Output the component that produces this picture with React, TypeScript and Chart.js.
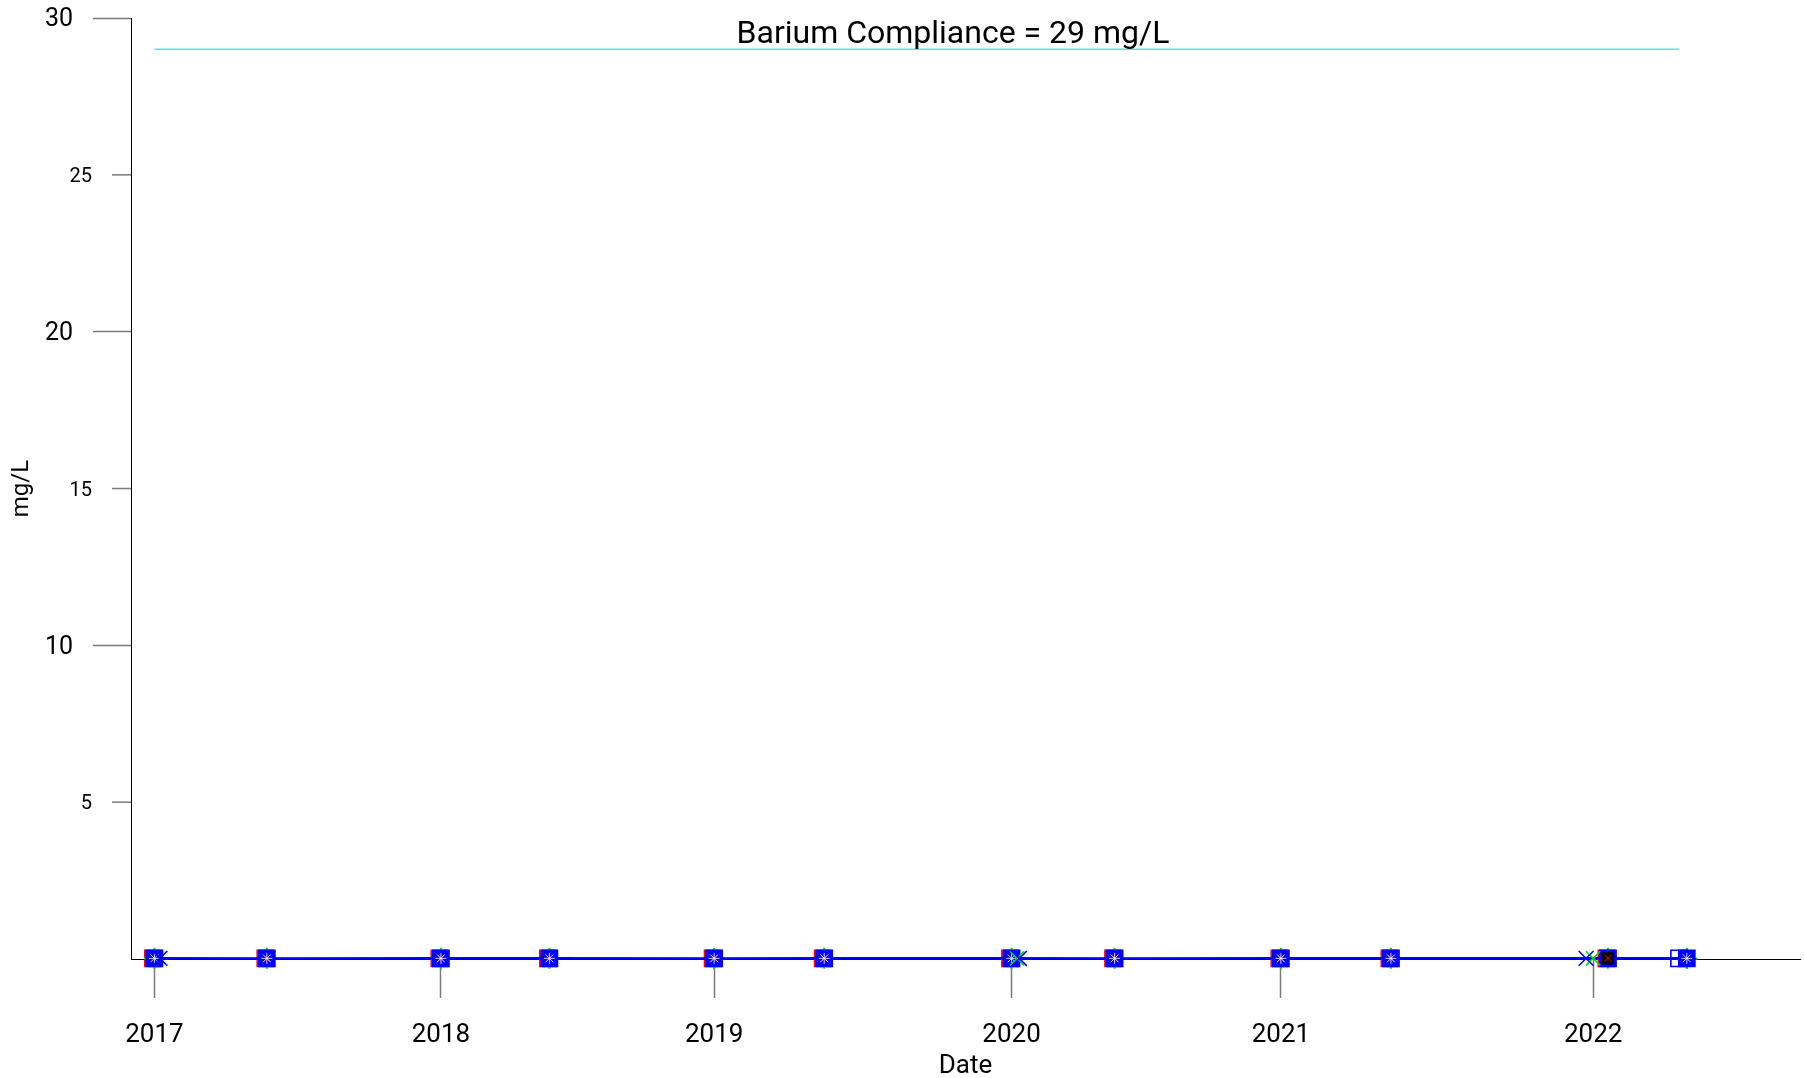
import React, { useEffect, useRef } from "react";
import { Chart, registerables } from "chart.js";
Chart.register(...registerables);

const FONT = "Roboto, 'Open Sans', sans-serif";

// ---- data (dates as ISO strings, values in mg/L) ----
const mainDates = [
  "2017-01-10", "2017-06-03", "2018-01-12", "2018-05-31", "2018-12-28", "2019-05-18",
  "2020-01-13", "2020-05-24", "2020-12-23", "2021-05-13", "2022-02-15", "2022-05-27",
];
const mainValues = [0.021, 0.019, 0.022, 0.02, 0.018, 0.021, 0.02, 0.019, 0.022, 0.02, 0.021, 0.02];

const openSquareDates = ["2022-05-17"];
const openSquareValues = [0.02];

const redSquareDates = [
  "2017-01-08", "2017-06-01", "2018-01-10", "2018-05-29", "2018-12-26", "2019-05-16",
  "2020-01-11", "2020-05-22", "2020-12-21", "2021-05-11", "2022-02-13",
];
const redSquareValues = [0.02, 0.018, 0.021, 0.019, 0.02, 0.02, 0.021, 0.018, 0.02, 0.019, 0.02];

const greenPlusDates = [
  "2017-01-10", "2017-06-03", "2018-01-12", "2018-05-31", "2018-12-28", "2019-05-18",
  "2020-01-13", "2020-05-24", "2020-12-23", "2021-05-13", "2022-02-15", "2022-05-27",
];
const greenPlusValues = [0.02, 0.02, 0.021, 0.02, 0.019, 0.02, 0.021, 0.02, 0.02, 0.021, 0.02, 0.019];

const greenXDates = ["2020-01-20", "2022-01-27"];
const greenXValues = [0.02, 0.021];

const blueXDates = ["2017-01-17", "2020-01-23", "2022-01-18"];
const blueXValues = [0.02, 0.019, 0.02];

const blackDates = ["2022-02-15"];
const blackValues = [0.02];

const innerStarDates = [
  "2017-01-10", "2017-06-03", "2018-01-12", "2018-05-31", "2018-12-28", "2019-05-18",
  "2020-01-13", "2020-05-24", "2020-12-23", "2021-05-13", "2022-05-27",
];
const innerStarValues = [0.02, 0.02, 0.02, 0.02, 0.02, 0.02, 0.02, 0.02, 0.02, 0.02, 0.02];

const innerRedDates = [
  "2017-06-03", "2018-01-12", "2018-05-31", "2018-12-28", "2019-05-18",
  "2020-05-24", "2020-12-23", "2021-05-13", "2022-02-15",
];
const innerRedValues = [0.02, 0.02, 0.02, 0.02, 0.02, 0.02, 0.02, 0.02, 0.02];

const complianceDates = ["2017-01-10", "2022-05-17"];
const complianceLevel = 29;
const titleText = "Barium Compliance = 29 mg/L";

const xRange = ["2016-12-11", "2022-10-19"];
const tickDates = ["2017-01-10", "2018-01-12", "2018-12-28", "2020-01-13", "2020-12-23", "2022-01-27"];
const tickLabels = ["2017", "2018", "2019", "2020", "2021", "2022"];
const yMajorTicks = [10, 20, 30];
const yMinorTicks = [5, 15, 25];
const yRange = [0, 30];

// ---- helpers ----
const t = (d: string) => Date.parse(d + "T00:00:00Z");
const pts = (dates: string[], values: number[]) => dates.map((d, i) => ({ x: t(d), y: values[i] }));

const extrasPlugin = {
  id: "extras",
  afterDraw(chart: any) {
    const ctx = chart.ctx;
    const ys = chart.scales.y;
    const left = chart.chartArea.left;
    ctx.save();
    ctx.strokeStyle = "#7a7a7a";
    ctx.lineWidth = 1.5;
    ctx.fillStyle = "#000";
    ctx.font = `20px ${FONT}`;
    ctx.textAlign = "right";
    ctx.textBaseline = "middle";
    yMinorTicks.forEach((v) => {
      const py = ys.getPixelForValue(v);
      ctx.beginPath();
      ctx.moveTo(left - 19, py);
      ctx.lineTo(left, py);
      ctx.stroke();
      ctx.fillText(String(v), left - 39, py + 2);
    });
    ctx.font = `32px ${FONT}`;
    ctx.textAlign = "center";
    ctx.textBaseline = "alphabetic";
    ctx.fillText(titleText, chart.chartArea.left + chart.chartArea.width * 0.4925, 43);
    ctx.restore();
  },
};

export default function App() {
  const ref = useRef<HTMLCanvasElement | null>(null);
  useEffect(() => {
    if (!ref.current) return;
    const marker = (extra: any) => ({
      showLine: false,
      clip: false,
      borderWidth: 1.5,
      pointHoverRadius: 0,
      ...extra,
    });
    const chart = new Chart(ref.current, {
      type: "line",
      data: {
        datasets: [
          marker({ label: "Blue X", data: pts(blueXDates, blueXValues), pointStyle: "crossRot", pointRadius: 10.5, borderColor: "#0000ff", pointBorderColor: "#0000ff", pointBorderWidth: 1.6 }),
          marker({ label: "Green X", data: pts(greenXDates, greenXValues), pointStyle: "crossRot", pointRadius: 10, borderColor: "#00dd00", pointBorderColor: "#00dd00", pointBorderWidth: 1.6 }),
          marker({ label: "Inner star", data: pts(innerStarDates, innerStarValues), pointStyle: "star", pointRadius: 5.5, borderColor: "rgba(255,255,255,0.8)", pointBorderColor: "rgba(255,255,255,0.8)", pointBorderWidth: 1 }),
          marker({ label: "Inner red", data: pts(innerRedDates, innerRedValues), pointStyle: "crossRot", pointRadius: 5, borderColor: "#ff0000", pointBorderColor: "#ff0000", pointBorderWidth: 1 }),
          marker({ label: "Black", data: pts(blackDates, blackValues), pointStyle: "rect", pointRadius: 8, backgroundColor: "#000", pointBackgroundColor: "#000", borderColor: "#000", pointBorderColor: "#000", pointBorderWidth: 1 }),
          {
            label: "Barium",
            data: pts(mainDates, mainValues),
            showLine: true,
            clip: false,
            borderColor: "#0000ff",
            borderWidth: 2.5,
            pointStyle: "rect",
            pointRadius: 11.5,
            pointHoverRadius: 0,
            pointBackgroundColor: "#0000ff",
            pointBorderColor: "#0000ff",
            pointBorderWidth: 1.5,
            tension: 0,
          },
          marker({ label: "Open square", data: pts(openSquareDates, openSquareValues), pointStyle: "rect", pointRadius: 11.5, backgroundColor: "rgba(0,0,0,0)", pointBackgroundColor: "rgba(0,0,0,0)", borderColor: "#0000ff", pointBorderColor: "#0000ff", pointBorderWidth: 1.6 }),
          marker({ label: "Green plus", data: pts(greenPlusDates, greenPlusValues), pointStyle: "cross", pointRadius: 10.5, borderColor: "#00dd00", pointBorderColor: "#00dd00", pointBorderWidth: 2 }),
          marker({ label: "Red square", data: pts(redSquareDates, redSquareValues), pointStyle: "rect", pointRadius: 11.5, backgroundColor: "#ff0000", pointBackgroundColor: "#ff0000", borderColor: "#ff0000", pointBorderColor: "#ff0000", pointBorderWidth: 1.5 }),
          {
            label: "Compliance",
            data: complianceDates.map((d) => ({ x: t(d), y: complianceLevel })),
            showLine: true,
            clip: false,
            borderColor: "#44eeee",
            borderWidth: 1.5,
            pointRadius: 0,
            pointHoverRadius: 0,
          },
        ],
      },
      options: {
        animation: false,
        responsive: false,
        events: [],
        layout: { autoPadding: false, padding: { top: 18, right: 4, left: 0, bottom: 0 } },
        plugins: { legend: { display: false }, tooltip: { enabled: false }, title: { display: false } },
        scales: {
          x: {
            type: "linear",
            min: t(xRange[0]),
            max: t(xRange[1]),
            afterBuildTicks: (scale: any) => {
              scale.ticks = tickDates.map((d) => ({ value: t(d) }));
            },
            afterFit: (scale: any) => {
              scale.height = 119;
              scale.paddingLeft = 0;
              scale.paddingRight = 0;
              scale.paddingTop = 0;
              scale.paddingBottom = 0;
            },
            ticks: {
              autoSkip: false,
              maxRotation: 0,
              padding: 22,
              color: "#000",
              font: { family: FONT, size: 26 },
              callback: (_v: any, i: number) => tickLabels[i],
            },
            grid: {
              drawOnChartArea: false,
              drawTicks: true,
              tickLength: 39,
              tickColor: "#7a7a7a",
              tickWidth: 1.5,
            },
            border: { display: true, color: "#000", width: 1 },
            title: {
              display: true,
              text: "Date",
              color: "#000",
              font: { family: FONT, size: 26 },
              padding: { top: 0, bottom: -4 },
            },
          },
          y: {
            type: "linear",
            min: yRange[0],
            max: yRange[1],
            afterBuildTicks: (scale: any) => {
              scale.ticks = yMajorTicks.map((v) => ({ value: v }));
            },
            afterFit: (scale: any) => {
              scale.width = 131;
              scale.paddingLeft = 0;
              scale.paddingRight = 0;
              scale.paddingTop = 0;
              scale.paddingBottom = 0;
            },
            ticks: {
              padding: 20,
              labelOffset: 2,
              color: "#000",
              font: { family: FONT, size: 25 },
              callback: (v: any) => String(v),
            },
            grid: {
              drawOnChartArea: false,
              drawTicks: true,
              tickLength: 38,
              tickColor: "#7a7a7a",
              tickWidth: 1.5,
            },
            border: { display: true, color: "#000", width: 1 },
            title: {
              display: true,
              text: "mg/L",
              color: "#000",
              font: { family: FONT, size: 24 },
              padding: { top: 8, bottom: 0 },
            },
          },
        },
      },
      plugins: [extrasPlugin],
    } as any);
    return () => chart.destroy();
  }, []);
  return (
    <div style={{ position: "fixed", left: 0, top: 0, width: 1804, height: 1078, background: "#fff" }}>
      <canvas ref={ref} width={1804} height={1078} />
    </div>
  );
}
